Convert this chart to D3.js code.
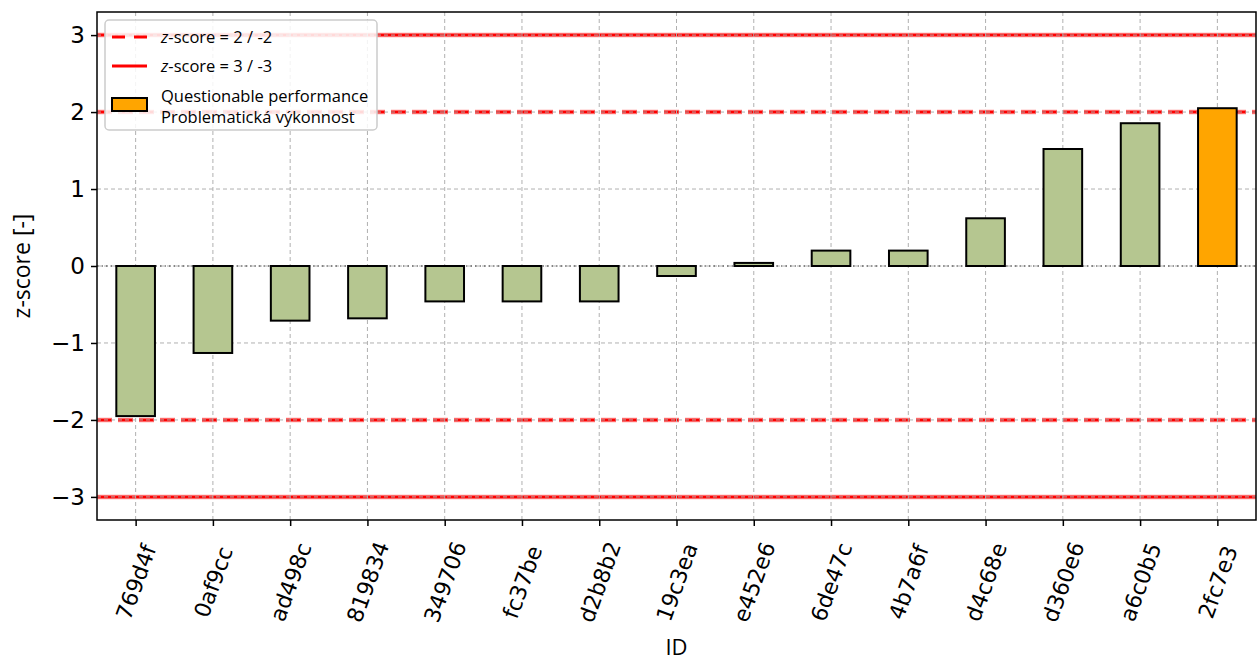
<!DOCTYPE html>
<html><head><meta charset="utf-8">
<script src="https://cdn.jsdelivr.net/npm/d3@7"></script>
<style>body{margin:0;background:#fff}svg{display:block}</style>
</head><body>
<svg id="c" width="1260" height="664"></svg>
<script>
const ids = ["769d4f","0af9cc","ad498c","819834","349706","fc37be","d2b8b2","19c3ea","e452e6","6de47c","4b7a6f","d4c68e","d360e6","a6c0b5","2fc7e3"];
const zscores = [-1.95,-1.13,-0.71,-0.68,-0.46,-0.46,-0.46,-0.13,0.04,0.2,0.2,0.62,1.52,1.855,2.05];
const yTicks = [-3,-2,-1,0,1,2,3];
const warnLevels = [2,-2];
const actionLevels = [3,-3];
const legendLabels = ["z-score = 2 / -2","z-score = 3 / -3","Questionable performance","Problematická výkonnost"];

const svg = d3.select("#c");
const L=97, R=1256, T=12, B=520;
const x = d3.scaleLinear().domain([-0.5, ids.length-0.5]).range([L,R]);
const y = d3.scaleLinear().domain([-3.3,3.3]).range([B,T]);
const font = "DejaVu Sans, sans-serif";
const lf = "Open Sans, sans-serif";

const g = svg.append("g");
function redLine(data, dash){
  [[4.5,0.45],[2.5,1]].forEach(([w,o])=>{
    g.append("g").selectAll("line").data(data).join("line")
     .attr("x1",L).attr("x2",R).attr("y1",d=>y(d)).attr("y2",d=>y(d))
     .attr("stroke","red").attr("stroke-width",w).attr("stroke-opacity",o)
     .attr("stroke-dasharray",dash);
  });
}
redLine(actionLevels, null);
redLine(warnLevels, "15,6");
// grid
g.selectAll(".gy").data(yTicks).join("line")
 .attr("x1",L).attr("x2",R).attr("y1",d=>y(d)).attr("y2",d=>y(d))
 .attr("stroke","#b0b0b0").attr("stroke-width",1).attr("stroke-dasharray","4,3");
g.selectAll(".gx").data(ids).join("line")
 .attr("x1",(d,i)=>x(i)).attr("x2",(d,i)=>x(i)).attr("y1",T).attr("y2",B)
 .attr("stroke","#b0b0b0").attr("stroke-width",1).attr("stroke-dasharray","4,3");
// zero line
g.append("line").attr("x1",L).attr("x2",R).attr("y1",y(0)).attr("y2",y(0))
 .attr("stroke","#333").attr("stroke-width",1).attr("stroke-dasharray","1.5,3");
// bars
const bw = x(0.25)-x(0);
g.selectAll(".bar").data(zscores).join("rect")
 .attr("x",(d,i)=>x(i)-bw).attr("width",bw*2)
 .attr("y",d=>y(Math.max(0,d))).attr("height",d=>Math.abs(y(d)-y(0)))
 .attr("fill",d=>Math.abs(d)>=2?"#ffa500":"#b5c690")
 .attr("stroke","#000").attr("stroke-width",2);
// frame
svg.append("rect").attr("x",L).attr("y",T).attr("width",R-L).attr("height",B-T)
 .attr("fill","none").attr("stroke","#000").attr("stroke-width",1.5);
// axes
const yAxis = d3.axisLeft(y).tickValues(yTicks).tickSize(6).tickPadding(6)
 .tickFormat(d=>d<0?"\u2212"+Math.abs(d):String(d));
const ya = svg.append("g").attr("transform",`translate(${L},0)`).call(yAxis);
ya.select(".domain").remove();
ya.selectAll("line").attr("stroke","#000").attr("stroke-width",1.5);
ya.selectAll("text").attr("font-family",font).attr("font-size",23).attr("fill","#000");

const xa = svg.append("g").attr("transform",`translate(0,${B})`)
 .call(d3.axisBottom(x).tickValues(d3.range(ids.length)).tickSize(6).tickFormat(i=>ids[i]));
xa.select(".domain").remove();
xa.selectAll("line").attr("stroke","#000").attr("stroke-width",1.5);
xa.selectAll("text").attr("font-family",font).attr("font-size",22).attr("fill","#000")
 .attr("text-anchor","middle").attr("dy","0.35em")
 .attr("transform","translate(0,62) rotate(-70)").attr("x",0).attr("y",0);

svg.append("text").attr("x",(L+R)/2).attr("y",655).attr("text-anchor","middle")
 .attr("font-family",lf).attr("font-size",22).text("ID");
svg.append("text").attr("transform",`translate(30,${y(0)}) rotate(-90)`).attr("text-anchor","middle")
 .attr("font-family",lf).attr("font-size",23).text("z-score [-]");

// legend
const lg = svg.append("g");
lg.append("rect").attr("x",105).attr("y",20).attr("width",272).attr("height",110).attr("rx",4)
 .attr("fill","#fff").attr("fill-opacity",0.85).attr("stroke","#ccc").attr("stroke-width",1.5);
lg.append("line").attr("x1",112).attr("x2",147).attr("y1",37).attr("y2",37)
 .attr("stroke","red").attr("stroke-width",3).attr("stroke-dasharray","13,9");
lg.append("line").attr("x1",112).attr("x2",147).attr("y1",66).attr("y2",66)
 .attr("stroke","red").attr("stroke-width",3);
lg.append("rect").attr("x",112).attr("y",98).attr("width",35).attr("height",13)
 .attr("fill","#ffa500").attr("stroke","#000").attr("stroke-width",2);
function zl(yy, txt){
  const t = lg.append("text").attr("x",161).attr("y",yy).attr("font-family",lf).attr("font-size",16.5);
  t.append("tspan").attr("font-style","italic").text("z");
  t.append("tspan").text(txt.slice(1));
}
zl(43, legendLabels[0]); zl(72, legendLabels[1]);
lg.append("text").attr("x",161).attr("y",102).attr("font-family",lf).attr("font-size",16.5).text(legendLabels[2]);
lg.append("text").attr("x",161).attr("y",123).attr("font-family",lf).attr("font-size",16.5).text(legendLabels[3]);
</script>
</body></html>
